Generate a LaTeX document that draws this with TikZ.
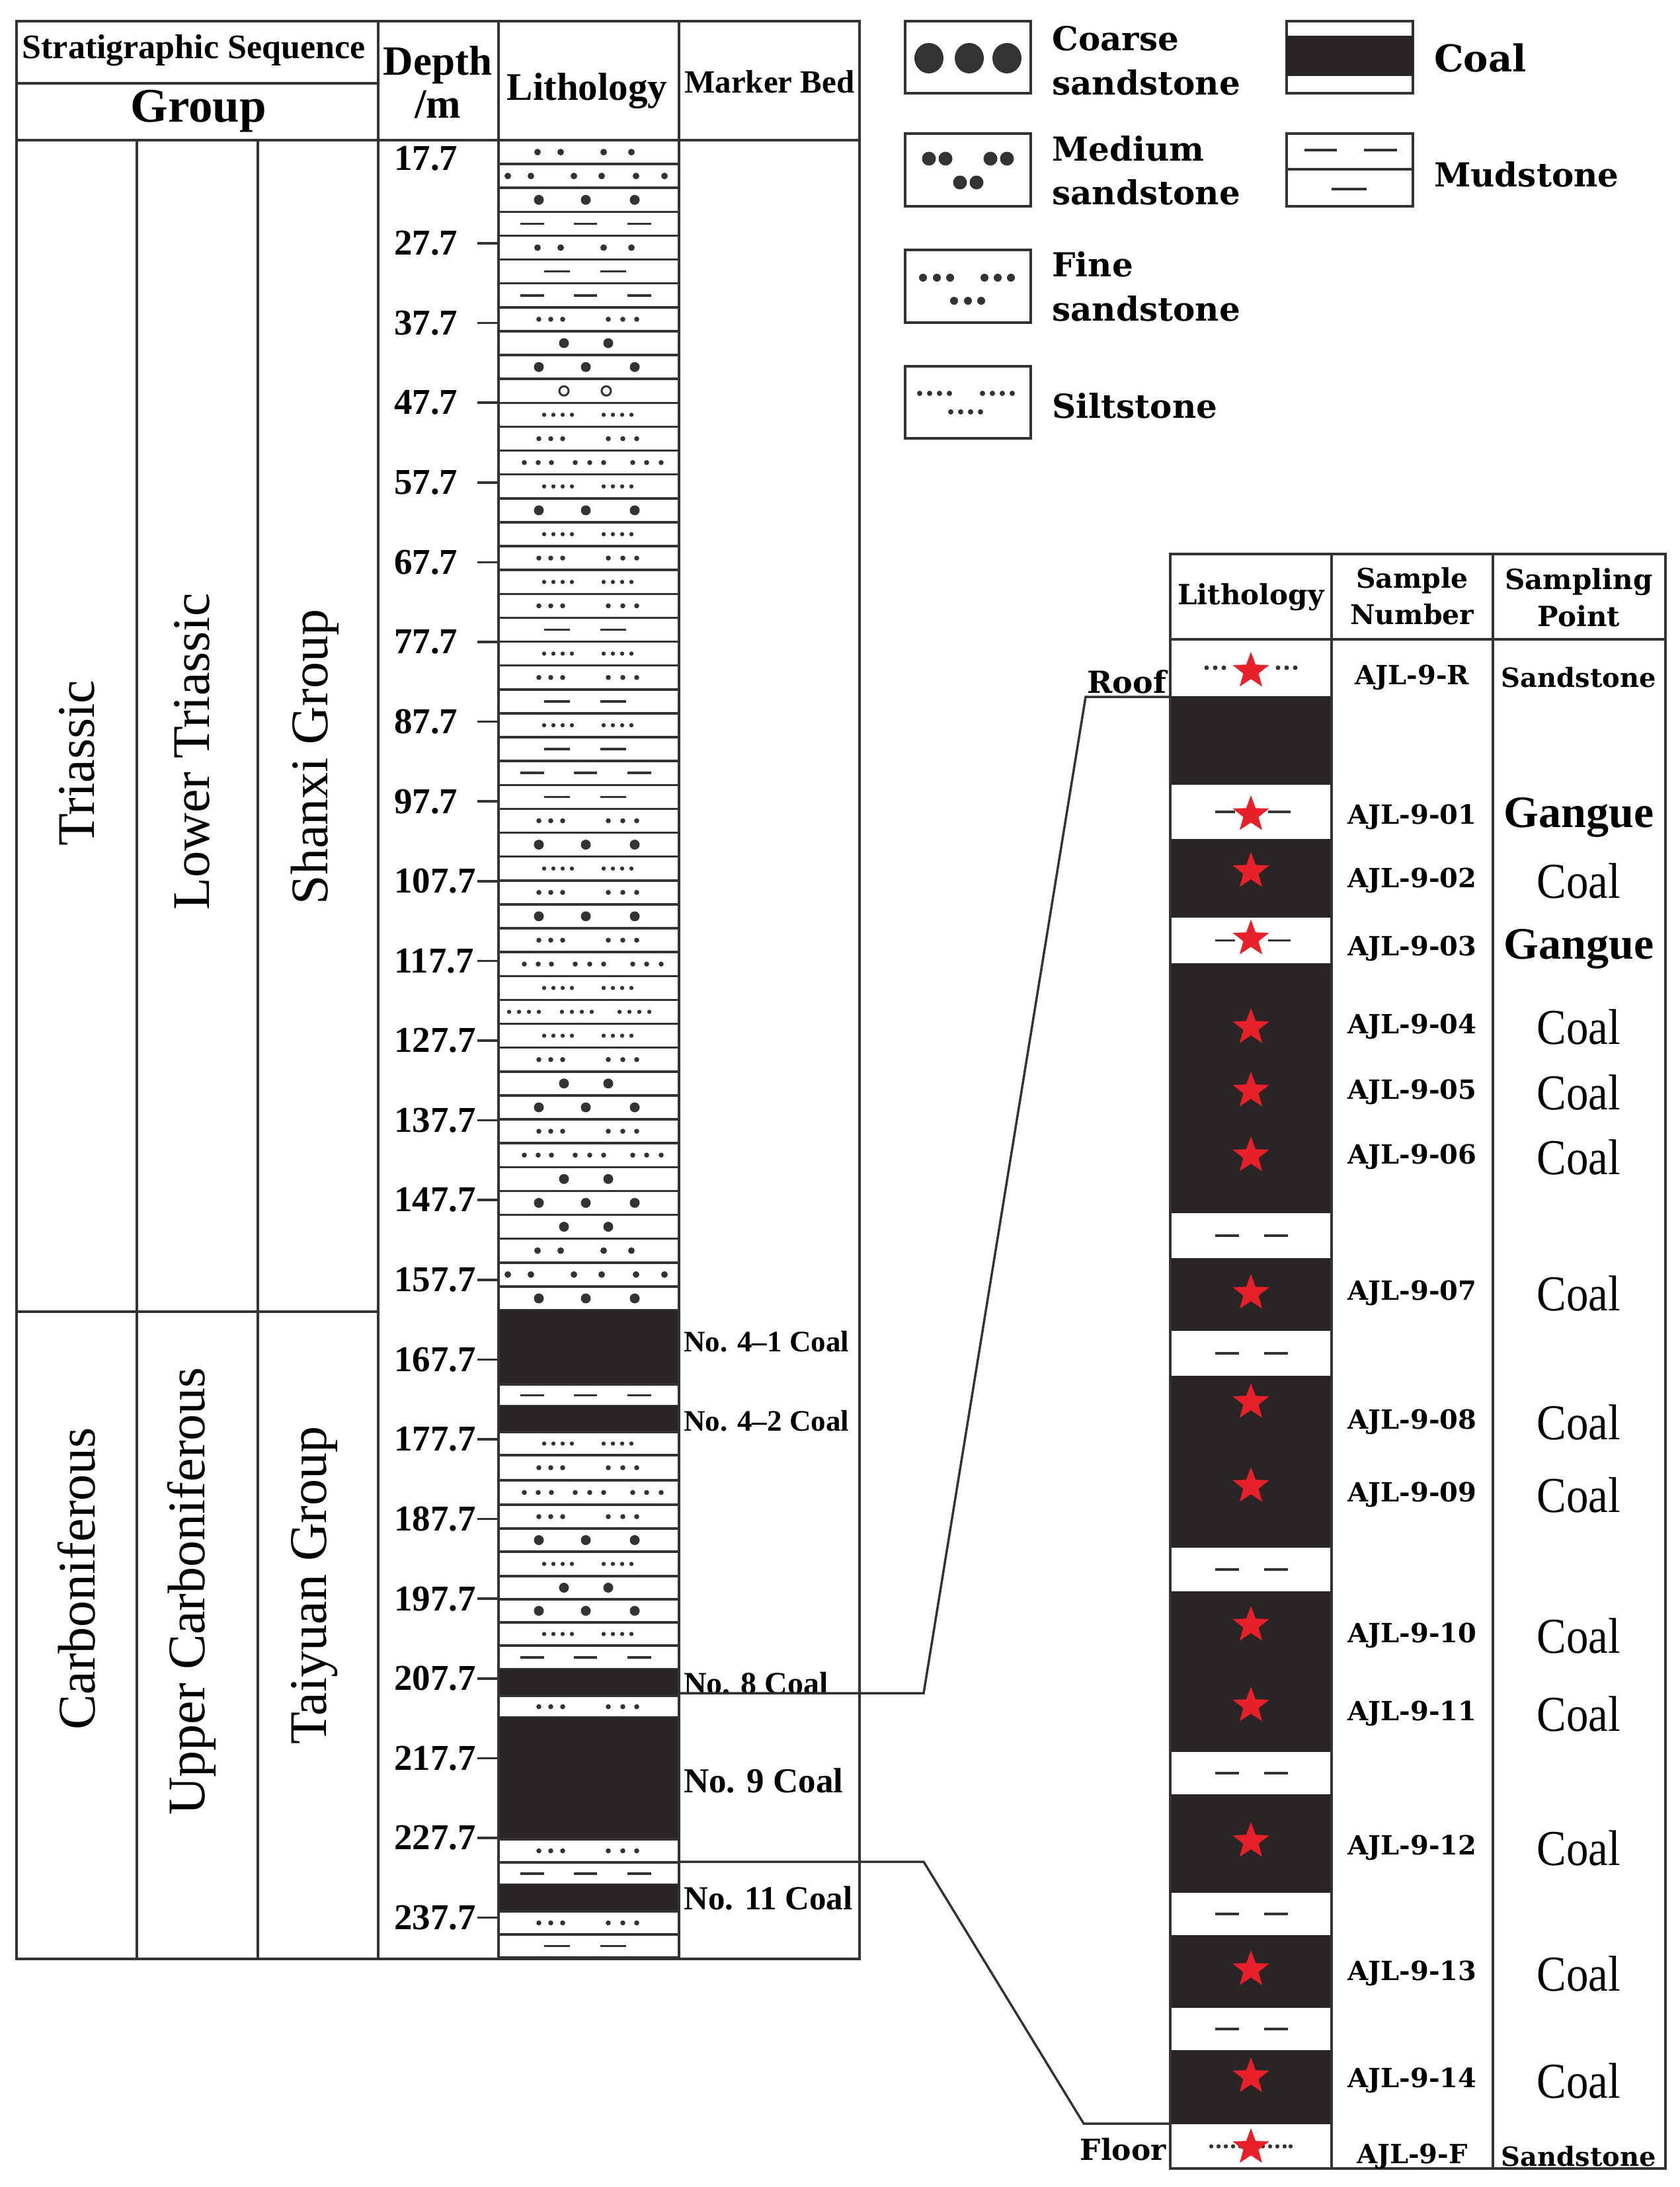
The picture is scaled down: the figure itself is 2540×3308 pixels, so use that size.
\documentclass[tikz,border=0pt]{standalone}
\usepackage{fontspec}
\setmainfont{Liberation Serif}
\newfontfamily\djf{DejaVu Serif}
\usetikzlibrary{shapes.geometric}
\definecolor{ink}{HTML}{333333}
\definecolor{coalc}{HTML}{2A2424}
\definecolor{starc}{HTML}{E8202A}
\newcommand\fsz[1]{\fontsize{#1}{#1}\selectfont}
\def\kK{K}\def\kM{M}\def\kG{G}\def\kR{R}\def\kF{F}\def\kC{C}\def\kS{S}
\newcommand\dotrow[3]{\foreach \xx in {#2} \fill[ink] (\xx,#1) circle (#3);}
\newcommand\dashrow[2]{\foreach \xa/\xb in {#2} \draw[ink,line width=3.5] (\xa,#1) -- (\xb,#1);}
\newcommand\patA[1]{\dotrow{#1}{813,848,913,955}{5}}
\newcommand\patB[1]{\dotrow{#1}{768,803,868,910,962,1005}{5}}
\newcommand\patCiii[1]{\dotrow{#1}{815,886,960}{7.5}}
\newcommand\patCii[1]{\dotrow{#1}{853,920}{7.5}}
\newcommand\patMiii[1]{\dashrow{#1}{787/823,868/903,949/985}}
\newcommand\patMii[1]{\dashrow{#1}{823/862,908/947}}
\newcommand\patFii[1]{\dotrow{#1}{815,833,851,920,942,963}{3.8}}
\newcommand\patFiii[1]{\dotrow{#1}{793,814,834,870,892,913,957,978,1000}{3.8}}
\newcommand\patSii[1]{\dotrow{#1}{823,837,851,865,913,927,941,955}{3.2}}
\newcommand\patSiii[1]{\dotrow{#1}{770,785,800,815,850,865,880,895,937,952,967,982}{3.2}}
\newcommand\patO[1]{\foreach \xx in {853,917} \draw[ink,line width=3] (\xx,#1) circle (7);}
\tikzset{
  frame/.style={draw=ink,line width=4},
  lay/.style={draw=ink,line width=3.5},
  hdr/.style={font=\bfseries\fsz{52}, inner sep=0},
  rot/.style={font=\fsz{80}, rotate=90, inner sep=0},
  dep/.style={font=\bfseries\fsz{55}, anchor=west, inner sep=0},
  mk/.style={font=\bfseries\fsz{45}, anchor=west, inner sep=0},
  leg/.style={font=\djf\bfseries\fsz{50}, anchor=west, inner sep=0},
  smp/.style={font=\djf\bfseries\fsz{40}, inner sep=0},
  spt/.style={font=\fsz{76}, xscale=0.88, inner sep=0},
  gng/.style={font=\bfseries\fsz{68}, inner sep=0},
  st/.style={star, star points=5, star point ratio=2.4, fill=starc, minimum size=58, inner sep=0},
}
\begin{document}
\begin{tikzpicture}[x=1pt,y=-1pt]
\useasboundingbox (0,0) rectangle (2540,3308);
\fill[white] (0,0) rectangle (2540,3308);
% ---------- left lithology: upper section
\foreach \p [count=\i] in {A,B,Ciii,Miii,A,Mii,Miii,Fii,Cii,Ciii,O,Sii,Fii,Fiii,Sii,Ciii,Sii,Fii,Sii,Fii,Mii,Sii,Fii,Mii,Sii,Mii,Miii,Mii,Fii,Ciii,Sii,Fii,Ciii,Fii,Fiii,Sii,Siii,Sii,Fii,Cii,Ciii,Fii,Fiii,Cii,Ciii,Cii,A,B,Ciii}{
  \pgfmathsetmacro\yc{212+(\i-0.5)*36.122}
  \pgfmathsetmacro\yb{212+\i*36.122}
  \csname pat\p\endcsname{\yc}
  \draw[lay] (754,\yb) -- (1027,\yb);
}
% ---------- left lithology: lower section
\foreach \a/\b/\p in {1982/2094/K,2094/2127/Miii,2127/2166/K,2166/2201/Sii,2201/2239/Fii,2239/2276/Fiii,2276/2312/Fii,2312/2347/Ciii,2347/2384/Sii,2384/2419/Cii,2419/2454/Ciii,2454/2489/Sii,2489/2525/Miii,2525/2565/K,2565/2598/Fii,2598/2782/K,2782/2817/Fii,2817/2851/Miii,2851/2891/K,2891/2926/Fii,2926/2961/Mii}{
  \pgfmathsetmacro\yc{(\a+\b)/2}
  \ifx\p\kK\fill[coalc] (754,\a) rectangle (1027,\b);\else\csname pat\p\endcsname{\yc}\fi
  \draw[lay] (754,\b) -- (1027,\b);
}
% ---------- left table frame
\draw[frame] (25,32) rectangle (1300,2963);
\draw[frame] (25,126) -- (572,126);
\draw[frame] (25,212) -- (1300,212);
\draw[frame] (207,212) -- (207,2963) (390,212) -- (390,2963);
\draw[frame] (572,32) -- (572,2963) (754,32) -- (754,2963) (1027,32) -- (1027,2963);
\draw[frame] (25,1984) -- (572,1984);
% headers
\node[hdr] (hss) at (293,76) {Stratigraphic Sequence};
\node[hdr,font=\bfseries\fsz{73}] (hgr) at (300,168) {Group};
\node[hdr,font=\bfseries\fsz{63}] (hde) at (662,98) {Depth};
\node[hdr,font=\bfseries\fsz{63}] (hm) at (662,158) {/m};
\node[hdr,font=\bfseries\fsz{59}] (hli) at (888,138) {Lithology};
\node[hdr,font=\bfseries\fsz{49}] (hmb) at (1164,124) {Marker Bed};
% rotated
\node[rot] (t1) at (116,1154) {Triassic};
\node[rot] (t2) at (290,1137) {Lower Triassic};
\node[rot] (t3) at (476,1145) {Shanxi Group};
\node[rot] (c1) at (116,2388) {Carboniferous};
\node[rot] (c2) at (290,2407) {Upper Carboniferous};
\node[rot] (c3) at (476,2398) {Taiyuan Group};
% depths
\node[dep] (d0) at (596,240) {17.7};
\foreach \d [count=\i] in {27.7,37.7,47.7,57.7,67.7,77.7,87.7,97.7,107.7,117.7,127.7,137.7,147.7,157.7,167.7,177.7,187.7,197.7,207.7,217.7,227.7,237.7}{
  \pgfmathsetmacro\yy{368+(\i-1)*120.6}
  \node[dep] (d\i) at (596,\yy) {\d};
  \draw[ink,line width=3.5] (722,\yy) -- (754,\yy);
}
% marker beds
\node[mk] (m41) at (1034,2029) {No. 4--1 Coal};
\node[mk] (m42) at (1034,2149) {No. 4--2 Coal};
\node[mk,font=\bfseries\fsz{48}] (m8) at (1034,2546) {No. 8 Coal};
\node[mk,font=\bfseries\fsz{53}] (m9) at (1034,2693) {No. 9 Coal};
\node[mk,font=\bfseries\fsz{51}] (m11) at (1034,2871) {No. 11 Coal};
% ---------- legend
\draw[frame,line width=3.5] (1369,32) rectangle (1559,141);
\foreach \xx in {1405,1466,1523} \fill[ink] (\xx,88) ellipse (22 and 23);
\node[leg] (lco1) at (1591,58) {Coarse};
\node[leg] (lco2) at (1591,125) {sandstone};
\draw[frame,line width=3.5] (1369,202) rectangle (1559,312);
\dotrow{240}{1405,1430,1498,1523}{10.5}
\dotrow{276}{1452,1477}{10.5}
\node[leg] (lme1) at (1591,225) {Medium};
\node[leg] (lme2) at (1591,291) {sandstone};
\draw[frame,line width=3.5] (1369,378) rectangle (1559,488);
\dotrow{420}{1396,1417,1437,1489,1509,1529}{6}
\dotrow{455}{1443,1464,1484}{6}
\node[leg] (lfi1) at (1591,400) {Fine};
\node[leg] (lfi2) at (1591,467) {sandstone};
\draw[frame,line width=3.5] (1369,554) rectangle (1559,663);
\dotrow{595}{1391,1406,1421,1436,1486,1501,1516,1531}{4}
\dotrow{623}{1438,1453,1468,1483}{4}
\node[leg] (lsi) at (1591,614) {Siltstone};
\draw[frame,line width=3.5] (1946,32) rectangle (2137,141);
\fill[coalc] (1946,54) rectangle (2137,115);
\node[leg,font=\djf\bfseries\fsz{56}] (lcoal) at (2169,88) {Coal};
\draw[frame,line width=3.5] (1946,202) rectangle (2137,312);
\draw[frame,line width=3.5] (1946,256) -- (2137,256);
\dashrow{227}{1973/2022,2063/2113}
\dashrow{286}{2014/2067}
\node[leg] (lmud) at (2169,264) {Mudstone};
% ---------- right panel
\foreach \a/\b/\p in {967/1053/R,1053/1187/K,1187/1269/G,1269/1388/K,1388/1457/G,1457/1835/K,1835/1903/M,1903/2013/K,2013/2081/M,2081/2341/K,2341/2407/M,2407/2650/K,2650/2714/M,2714/2863/K,2863/2927/M,2927/3037/K,3037/3101/M,3101/3213/K,3213/3280/F}{
  \pgfmathsetmacro\yc{(\a+\b)/2}
  \ifx\p\kK\fill[coalc] (1770,\a) rectangle (2014,\b);\fi
  \ifx\p\kM\dashrow{\yc}{1838/1874,1912/1948}\fi
  \ifx\p\kG\dashrow{\yc}{1838/1868,1918/1952}\fi
  \ifx\p\kR\dotrow{\yc}{1825,1838,1851,1933,1946,1959}{3.5}\fi
  \ifx\p\kF\dotrow{\yc}{1832,1843,1854,1865,1876,1910,1921,1932,1943,1952}{3.2}\fi
}
\draw[frame] (1770,838) rectangle (2519,3280);
\draw[frame] (2014,838) -- (2014,3280) (2258,838) -- (2258,3280);
\draw[frame] (1770,967) -- (2519,967);
\node[hdr,font=\djf\bfseries\fsz{42}] (rh1) at (1892,903) {Lithology};
\node[hdr,font=\djf\bfseries\fsz{41}] (rh2a) at (2136,878) {Sample};
\node[hdr,font=\djf\bfseries\fsz{41}] (rh2b) at (2136,929) {Number};
\node[hdr,font=\djf\bfseries\fsz{42}] (rh3a) at (2388,880) {Sampling};
\node[hdr,font=\djf\bfseries\fsz{42}] (rh3b) at (2388,932) {Point};
% stars and labels
\foreach \n/\ys/\yl/\tp in {R/1015/1025/S,01/1232/1236/G,02/1318/1332/C,03/1420/1435/G,04/1554/1553/C,05/1650/1652/C,06/1748/1750/C,07/1956/1956/C,08/2121/2151/C,09/2248/2261/C,10/2458/2474/C,11/2580/2592/C,12/2785/2795/C,13/2979/2985/C,14/3141/3147/C,F/3248/3262/S}{
  \node[st] (s\n) at (1892,\ys) {};
  \node[smp] (n\n) at (2136,\yl) {AJL-9-\n};
  \ifx\tp\kC\node[spt] (p\n) at (2388,\yl) {Coal};\fi
  \ifx\tp\kG\node[gng] (p\n) at (2388,\yl) {Gangue};\fi
  \ifx\tp\kS\node[smp,font=\djf\bfseries\fsz{40}] (p\n) at (2388,\yl) {Sandstone};\fi
}
\node[font=\djf\bfseries\fsz{46}, anchor=east, inner sep=0] (roof) at (1764,1031) {Roof};
\node[font=\djf\bfseries\fsz{44}, anchor=east, inner sep=0] (floor) at (1764,3251) {Floor};
% connectors
\coordinate (a1) at (1027,2561);
\coordinate (a2) at (1397,2561);
\coordinate (a3) at (1642,1054);
\coordinate (a4) at (1770,1054);
\coordinate (b1) at (1027,2816);
\coordinate (b2) at (1397,2816);
\coordinate (b3) at (1639,3212);
\coordinate (b4) at (1770,3212);
\draw[ink,line width=3.5] (a1) -- (a2) -- (a3) -- (a4);
\draw[ink,line width=3.5] (b1) -- (b2) -- (b3) -- (b4);
\end{tikzpicture}
\end{document}
